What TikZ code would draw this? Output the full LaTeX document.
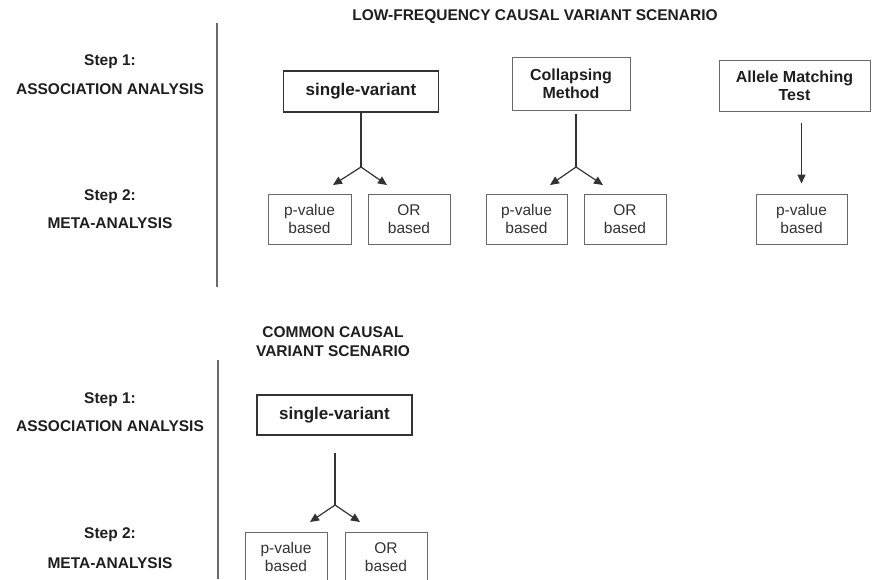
\documentclass[tikz,border=0pt]{standalone}
\usepackage{fontspec}
\setmainfont{Liberation Sans}
\usetikzlibrary{arrows.meta}
\definecolor{inkdark}{HTML}{1E1E1E}
\definecolor{inkgray}{HTML}{333333}
\definecolor{boxgray}{HTML}{6A6A6A}
\begin{document}
\begin{tikzpicture}[x=1pt,y=-1pt,
    lbl/.style = {font=\fontsize{15.5}{19}\selectfont\bfseries, text=inkdark, align=center, inner sep=0pt},
    mainbox/.style = {draw=inkgray, line width=1.5pt, minimum width=155pt, minimum height=41pt,
        font=\fontsize{17}{18}\selectfont\bfseries, text=inkdark, inner sep=0pt},
    methodbox/.style = {draw=boxgray, line width=1pt, minimum height=51pt, align=center,
        font=\fontsize{16}{18}\selectfont\bfseries, text=inkdark, inner sep=0pt},
    resultbox/.style = {draw=boxgray, line width=1pt, minimum height=50pt, align=center,
        font=\fontsize{15.5}{18}\selectfont, text=inkgray, inner sep=0pt},
    arrow/.style = {line width=1.2pt, draw=inkgray, -{Triangle[length=9pt,width=8pt]}},
    link/.style = {line width=1.2pt, draw=inkgray}]
    \path[use as bounding box] (0,0) rectangle (872,579);
    \clip (0,0) rectangle (872,579);

    % low-frequency scenario
    \node[lbl] (lowtitle) at (535,17) {LOW-FREQUENCY CAUSAL VARIANT SCENARIO};
    \node[lbl] (stepone) at (110,62) {Step 1:};
    \node[lbl] (assoc) at (110,89) {ASSOCIATION ANALYSIS};
    \node[lbl] (steptwo) at (110,197) {Step 2:};
    \node[lbl] (meta) at (110,223) {META-ANALYSIS};
    \coordinate (sepa) at (217,23);
    \coordinate (sepb) at (217,287);
    \draw[line width=1.2pt, boxgray] (sepa) -- (sepb);

    \node[mainbox] (single) at (361,91.5) {single-variant};
    \node[methodbox, minimum width=118pt, minimum height=53pt] (collapse) at (571,84)
        {Collapsing\\Method};
    \node[methodbox, minimum width=151pt] (allele) at (794.5,85.5)
        {Allele Matching\\Test};

    \node[resultbox, minimum width=83pt] (pvsingle) at (309.5,219) {p-value\\based};
    \node[resultbox, minimum width=82pt] (orsingle) at (409,219) {OR\\based};
    \node[resultbox, minimum width=81pt] (pvcollapse) at (526.5,219) {p-value\\based};
    \node[resultbox, minimum width=82pt] (orcollapse) at (625,219) {OR\\based};
    \node[resultbox, minimum width=91pt] (pvallele) at (801.5,219) {p-value\\based};

    \coordinate (forksingle) at (361,167);
    \coordinate (tippvs) at (333,185);
    \coordinate (tipors) at (387,185);
    \draw[link] (single.south) -- (forksingle);
    \draw[arrow] (forksingle) -- (tippvs);
    \draw[arrow] (forksingle) -- (tipors);

    \coordinate (forkcollapse) at (576,167);
    \coordinate (tippvc) at (550,185);
    \coordinate (tiporc) at (603,185);
    \draw[link] (collapse.south -| forkcollapse) ++(0,3) -- (forkcollapse);
    \draw[arrow] (forkcollapse) -- (tippvc);
    \draw[arrow] (forkcollapse) -- (tiporc);

    \draw[arrow, shorten <=11pt, shorten >=10pt] (allele.south -| pvallele) -- (pvallele.north);

    % common scenario
    \node[lbl] (commontitle) at (333,342) {COMMON CAUSAL\\VARIANT SCENARIO};
    \node[lbl] (steponeb) at (110,400) {Step 1:};
    \node[lbl] (assocb) at (110,426) {ASSOCIATION ANALYSIS};
    \node[lbl] (steptwob) at (110,535) {Step 2:};
    \node[lbl] (metab) at (110,563) {META-ANALYSIS};
    \coordinate (sepc) at (218,360);
    \coordinate (sepd) at (218,579);
    \draw[line width=1.2pt, boxgray] (sepc) -- (sepd);

    \node[mainbox, minimum height=40pt] (singleb) at (334.5,415) {single-variant};
    \node[resultbox, minimum width=82pt] (pvcommon) at (286,557) {p-value\\based};
    \node[resultbox, minimum width=82pt] (orcommon) at (386,557) {OR\\based};

    \coordinate (forkcommon) at (335,505);
    \coordinate (tippvm) at (310,522);
    \coordinate (tiporm) at (360,522);
    \draw[link] (singleb.south -| forkcommon) ++(0,17) -- (forkcommon);
    \draw[arrow] (forkcommon) -- (tippvm);
    \draw[arrow] (forkcommon) -- (tiporm);
\end{tikzpicture}
\end{document}
